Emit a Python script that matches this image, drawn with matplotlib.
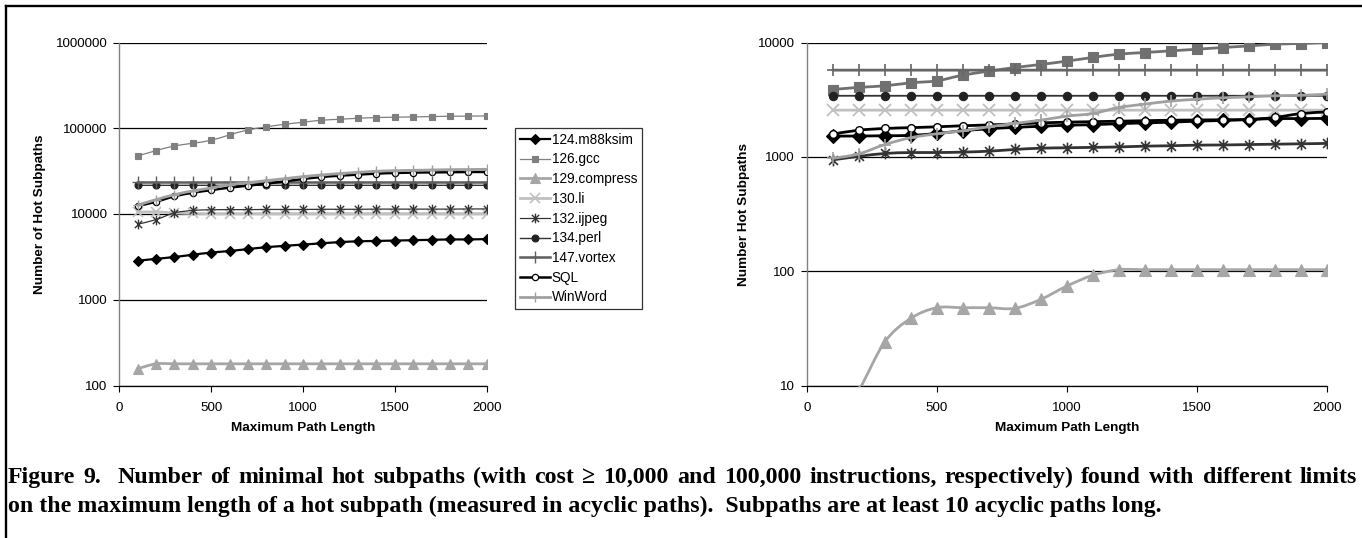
"""
Figure 9: number of minimal hot subpaths vs. maximum path length,
two log-scale panels (cost >= 10,000 left, >= 100,000 right).
Saves out.png.
"""

import numpy as np
import matplotlib
matplotlib.use("Agg")
import matplotlib.pyplot as plt
from matplotlib.path import Path
from matplotlib.patches import PathPatch
from matplotlib.lines import Line2D

plt.rcParams["font.family"] = ["Liberation Sans", "DejaVu Sans"]

# ---------------------------------------------------------------- data
path_len = [100, 200, 300, 400, 500, 600, 700, 800, 900, 1000,
            1100, 1200, 1300, 1400, 1500, 1600, 1700, 1800, 1900, 2000]

names = ["124.m88ksim", "126.gcc", "129.compress", "130.li", "132.ijpeg",
         "134.perl", "147.vortex", "SQL", "WinWord"]

# left panel (cost >= 10,000)
left_m88ksim = [2850, 3000, 3150, 3350, 3550, 3700, 3900, 4100, 4250, 4400,
                4550, 4700, 4800, 4850, 4900, 4950, 5000, 5050, 5050, 5100]
left_gcc = [47500, 54800, 62200, 66800, 72400, 83600, 95600, 103700, 111300, 117500,
            124000, 127300, 130800, 133300, 134400, 135600, 136800, 138000, 138500, 139300]
left_compress = [157, 179, 179, 179, 179, 179, 179, 179, 179, 179,
                 179, 179, 179, 179, 179, 179, 179, 179, 179, 179]
left_li = [10500, 10600, 10300, 10150, 10100, 10100, 10100, 10100, 10100, 10100,
           10100, 10100, 10100, 10100, 10100, 10100, 10100, 10100, 10100, 10100]
left_ijpeg = [7600, 8600, 10300, 11000, 11200, 11250, 11250, 11300, 11300, 11300,
              11350, 11350, 11350, 11400, 11400, 11400, 11400, 11400, 11450, 11450]
left_perl = [21600, 21600, 21600, 21600, 21600, 21600, 21600, 21600, 21600, 21600,
             21600, 21600, 21600, 21600, 21600, 21600, 21600, 21600, 21600, 21600]
left_vortex = [23300, 23300, 23300, 23300, 23300, 23300, 23300, 23300, 23300, 23300,
               23300, 23300, 23300, 23300, 23300, 23300, 23300, 23300, 23300, 23300]
left_sql = [12400, 13900, 16100, 17700, 19000, 20300, 21400, 22600, 24000, 25600,
            27000, 28000, 28800, 29600, 30100, 30400, 30600, 30700, 30900, 30900]
left_winword = [12700, 14700, 16800, 18600, 20100, 22000, 23200, 24500, 25800, 27300,
                28500, 29600, 30600, 31500, 32000, 32300, 32600, 32900, 33000, 33200]

# right panel (cost >= 100,000)
right_m88ksim = [1520, 1520, 1530, 1540, 1600, 1690, 1760, 1810, 1850, 1890,
                 1910, 1950, 1980, 2010, 2050, 2080, 2120, 2160, 2160, 2170]
right_gcc = [3880, 4050, 4180, 4440, 4620, 5180, 5610, 6040, 6420, 6870,
             7400, 7910, 8170, 8450, 8730, 9040, 9330, 9660, 9800, 10000]
right_compress = [4, 9, 24, 38.6, 47.9, 47.9, 47.9, 47.3, 56.6, 74,
                  92, 103, 103, 103, 103, 103, 103, 103, 103, 103]
right_li = [2560, 2560, 2560, 2560, 2560, 2560, 2560, 2560, 2560, 2560,
            2560, 2560, 2560, 2560, 2560, 2560, 2560, 2560, 2560, 2560]
right_ijpeg = [940, 1010, 1070, 1090, 1090, 1100, 1120, 1160, 1190, 1200,
               1210, 1220, 1240, 1250, 1265, 1270, 1280, 1290, 1300, 1310]
right_perl = [3420, 3420, 3420, 3420, 3420, 3420, 3420, 3420, 3420, 3420,
              3420, 3420, 3420, 3420, 3420, 3420, 3420, 3420, 3420, 3420]
right_vortex = [5730, 5730, 5730, 5730, 5730, 5730, 5730, 5730, 5730, 5730,
                5730, 5730, 5730, 5730, 5730, 5730, 5730, 5730, 5730, 5730]
right_sql = [1580, 1710, 1770, 1800, 1830, 1870, 1900, 1940, 1980, 2010,
             2030, 2050, 2070, 2090, 2100, 2110, 2120, 2210, 2390, 2470]
right_winword = [970, 1060, 1280, 1470, 1590, 1690, 1830, 1960, 2090, 2270,
                 2390, 2700, 2890, 3070, 3190, 3280, 3350, 3420, 3450, 3530]

left_series = [left_m88ksim, left_gcc, left_compress, left_li, left_ijpeg,
               left_perl, left_vortex, left_sql, left_winword]
right_series = [right_m88ksim, right_gcc, right_compress, right_li, right_ijpeg,
                right_perl, right_vortex, right_sql, right_winword]

x_ticks = [0, 500, 1000, 1500, 2000]
left_yticks = [100, 1000, 10000, 100000, 1000000]
right_yticks = [10, 100, 1000, 10000]

caption_1 = ("Figure 9.  Number of minimal hot subpaths (with cost \u2265 10,000 and "
             "100,000 instructions, respectively) found with different limits")
caption_2 = ("on the maximum length of a hot subpath (measured in acyclic paths).  "
             "Subpaths are at least 10 acyclic paths long.")

# ---------------------------------------------------------------- styles
W, H = 1362, 538

# asterisk marker: an x with a vertical bar through it
ASTERISK = Path([(0, -1), (0, 1), (-0.75, -0.75), (0.75, 0.75),
                 (-0.75, 0.75), (0.75, -0.75)],
                [Path.MOVETO, Path.LINETO] * 3)

# (color, line width, marker, marker size, face, edge, edge width)
left_styles = [
    ("#000000", 1.6, "D", 5.5, "#000000", "#000000", 0.8),
    ("#7f7f7f", 0.9, "s", 5.0, "#7f7f7f", "#7f7f7f", 0.8),
    ("#a6a6a6", 2.0, "^", 6.5, "#a6a6a6", "#a6a6a6", 0.8),
    ("#c0c0c0", 2.0, "x", 7.0, "none", "#c0c0c0", 1.2),
    ("#333333", 0.9, ASTERISK, 7.0, "none", "#333333", 1.0),
    ("#333333", 1.0, "o", 5.0, "#222222", "#222222", 0.8),
    ("#5f5f5f", 1.8, "+", 8.0, "none", "#5f5f5f", 1.0),
    ("#000000", 1.8, "o", 4.5, "#ffffff", "#000000", 0.9),
    ("#a0a0a0", 2.0, "+", 7.0, "none", "#a0a0a0", 1.0),
]
right_styles = [
    ("#000000", 2.0, "D", 7.0, "#000000", "#000000", 0.8),
    ("#707070", 2.0, "s", 7.5, "#707070", "#707070", 0.8),
    ("#a6a6a6", 2.0, "^", 8.0, "#a6a6a6", "#a6a6a6", 0.8),
    ("#c0c0c0", 2.0, "x", 8.5, "none", "#c0c0c0", 1.3),
    ("#333333", 2.0, ASTERISK, 8.5, "none", "#333333", 1.2),
    ("#333333", 1.3, "o", 6.0, "#222222", "#222222", 0.8),
    ("#666666", 2.0, "+", 9.0, "none", "#666666", 1.2),
    ("#000000", 2.0, "o", 5.5, "#ffffff", "#000000", 1.0),
    ("#a0a0a0", 2.0, "+", 8.5, "none", "#a0a0a0", 1.2),
]


def smooth_path(x, y):
    """Excel-style smoothed line: Catmull-Rom in (x, log y), as Bezier."""
    pts = np.column_stack([np.asarray(x, float), np.log10(y)])
    n = len(pts)
    verts = [pts[0]]
    codes = [Path.MOVETO]
    for i in range(n - 1):
        p0 = pts[max(i - 1, 0)]
        p1 = pts[i]
        p2 = pts[i + 1]
        p3 = pts[min(i + 2, n - 1)]
        verts += [p1 + (p2 - p0) / 6, p2 - (p3 - p1) / 6, p2]
        codes += [Path.CURVE4] * 3
    v = np.array(verts)
    v[:, 1] = 10 ** v[:, 1]
    return Path(v, codes)


def draw_panel(ax, series, styles):
    for i, (y, st) in enumerate(zip(series, styles)):
        color, lw, marker, ms, mfc, mec, mew = st
        z = 3 + i * 0.1
        ax.add_patch(PathPatch(smooth_path(path_len, y), fill=False,
                               edgecolor=color, lw=lw, joinstyle="round",
                               capstyle="round", zorder=z))
        ax.plot(path_len, y, ls="none", marker=marker, ms=ms, mfc=mfc,
                mec=mec, mew=mew, zorder=z + 0.05)


def style_axes(ax, yticks, ylabel, ylab_x):
    ax.set_yscale("log")
    ax.set_xlim(0, 2000)
    ax.set_ylim(yticks[0], yticks[-1])
    ax.set_xticks(x_ticks)
    ax.set_xticklabels([str(t) for t in x_ticks])
    ax.set_yticks(yticks)
    ax.set_yticklabels([str(t) for t in yticks])
    ax.yaxis.set_minor_locator(matplotlib.ticker.NullLocator())
    ax.tick_params(axis="y", direction="out", length=4.5, width=0.8,
                   color="black", pad=4.0, labelsize=9.6)
    ax.tick_params(axis="x", direction="out", length=4, width=0.8,
                   color="black", pad=8.0, labelsize=9.6)
    ax.spines["top"].set_visible(False)
    ax.spines["right"].set_visible(False)
    ax.spines["left"].set_color("#808080")
    ax.spines["left"].set_linewidth(1.0)
    ax.spines["bottom"].set_color("black")
    ax.spines["bottom"].set_linewidth(0.9)
    ax.grid(axis="y", color="black", lw=0.9, zorder=1)
    ax.set_axisbelow(True)
    ax.set_xlabel("Maximum Path Length", fontsize=9.7, fontweight="bold")
    ax.xaxis.label.set_va("center")
    ax.xaxis.set_label_coords(0.5, (385.5 - 428) / 343)
    ax.set_ylabel(ylabel, fontsize=9.7, fontweight="bold")
    ax.yaxis.label.set_va("center")
    ax.yaxis.set_label_coords(ylab_x, 0.5)


def justify_line(fig, text, x0, x1, y, **kw):
    renderer = fig.canvas.get_renderer()
    words = text.split(" ")
    arts, widths = [], []
    for w in words:
        if w:
            t = fig.text(0, y, w, va="baseline", ha="left", **kw)
            arts.append(t)
            widths.append(t.get_window_extent(renderer).width)
        else:
            arts.append(None)
            widths.append(0.0)
    gap = (x1 - x0 - sum(widths)) / (len(words) - 1)
    x = x0
    for t, w in zip(arts, widths):
        if t is not None:
            t.set_x(x / W)
        x += w + gap


def main():
    fig = plt.figure(figsize=(W / 100, H / 100), dpi=100)

    ax_l = fig.add_axes([119.3 / W, 1 - 385.5 / H, 367.4 / W, 343 / H])
    ax_r = fig.add_axes([806.7 / W, 1 - 385.5 / H, 520 / W, 343 / H])

    draw_panel(ax_l, left_series, left_styles)
    draw_panel(ax_r, right_series, right_styles)

    style_axes(ax_l, left_yticks, "Number of Hot Subpaths", (40.5 - 119.3) / 367.4)
    style_axes(ax_r, right_yticks, "Number Hot Subpaths", (744 - 806.7) / 520)

    handles = []
    for name, st in zip(names, left_styles):
        color, lw, marker, ms, mfc, mec, mew = st
        handles.append(Line2D([], [], color=color, lw=lw, marker=marker, ms=ms,
                              mfc=mfc, mec=mec, mew=mew, label=name))
    leg = fig.legend(handles=handles, loc="upper left",
                     bbox_to_anchor=(515 / W, 1 - 128 / H),
                     frameon=True, fancybox=False, fontsize=9.8,
                     handlelength=2.2, handletextpad=0.15, labelspacing=0.42,
                     borderpad=0.35, borderaxespad=0, edgecolor="black")
    leg.get_frame().set_linewidth(0.9)

    # page frame (left and top edges visible)
    fig.add_artist(Line2D([6.2 / W, 6.2 / W], [0, 1 - 6.2 / H],
                          transform=fig.transFigure, color="black", lw=1.7))
    fig.add_artist(Line2D([6.2 / W, 1], [1 - 6.2 / H, 1 - 6.2 / H],
                          transform=fig.transFigure, color="black", lw=1.7))

    cap_kw = dict(fontsize=17.2, fontweight="bold",
                  family=["Liberation Serif", "DejaVu Serif"])
    justify_line(fig, caption_1, 8, 1357, 1 - 483 / H, **cap_kw)
    fig.text(8 / W, 1 - 511.7 / H, caption_2, va="baseline", ha="left", **cap_kw)

    fig.savefig("out.png", dpi=100)


if __name__ == "__main__":
    main()
